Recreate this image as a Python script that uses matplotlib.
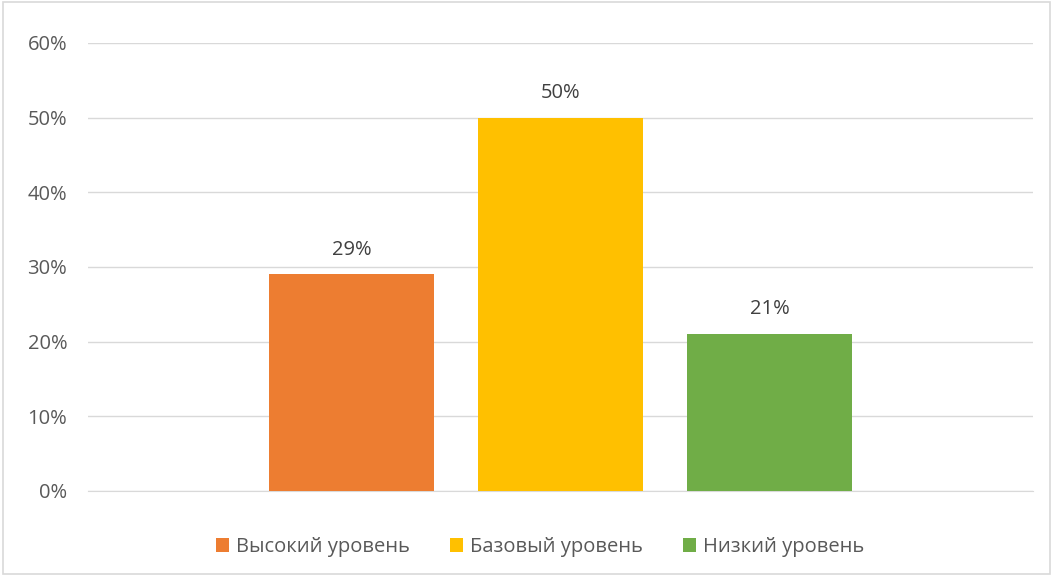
import matplotlib.pyplot as plt
from matplotlib.patches import Rectangle
from matplotlib.ticker import FuncFormatter

plt.rcParams['font.family'] = ['Open Sans', 'DejaVu Sans']

series = ['Высокий уровень', 'Базовый уровень', 'Низкий уровень']
values = [29, 50, 21]
colors = ['#ED7D31', '#FFC000', '#70AD47']
offsets = [-0.2212, 0.0, 0.2212]
bar_w = 0.1746

fig = plt.figure(figsize=(10.53, 5.76), dpi=100)
ax = fig.add_axes([88 / 1053, 85 / 576, 945 / 1053, 448 / 576])

for name, v, c, off in zip(series, values, colors, offsets):
    ax.bar(off, v, width=bar_w, color=c, label=name, zorder=3)
    ax.text(off, v + 2.0, f'{v}%', ha='center', va='bottom', fontsize=14.5, color='#404040')

ax.set_xlim(-0.5, 0.5)
ax.set_ylim(0, 60)
ax.set_yticks(range(0, 61, 10))
ax.yaxis.set_major_formatter(FuncFormatter(lambda y, p: f'{int(y)}%'))
ax.set_xticks([])
ax.grid(axis='y', color='#d9d9d9', linewidth=1, zorder=0)
for s in ['top', 'right', 'left']:
    ax.spines[s].set_visible(False)
ax.spines['bottom'].set_color('#d9d9d9')
ax.tick_params(axis='y', length=0, pad=15, labelsize=14.5, labelcolor='#595959')

fig.legend(loc='center', bbox_to_anchor=(540 / 1053, 1 - 547 / 576), ncol=3, frameon=False,
           fontsize=14.5, labelcolor='#595959', handlelength=0.65, handleheight=0.65,
           handletextpad=0.35, columnspacing=2.0)

fig.patches.append(Rectangle((0.003, 0.003), 0.994, 0.994, transform=fig.transFigure,
                             fill=False, edgecolor='#d9d9d9', linewidth=1.2))

fig.savefig('out.png', dpi=100)
